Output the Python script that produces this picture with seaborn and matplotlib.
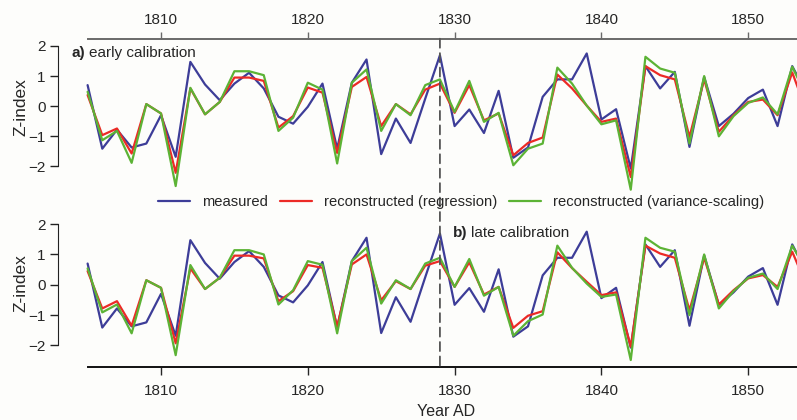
import numpy as np
import pandas as pd
import matplotlib
matplotlib.use("Agg")
import matplotlib.pyplot as plt
from matplotlib.patches import ConnectionPatch
import seaborn as sns

years = list(range(1805, 1855))

measured = [0.70, -1.41, -0.78, -1.37, -1.24, -0.30, -1.68, 1.47, 0.72, 0.20,
            0.75, 1.11, 0.59, -0.35, -0.58, -0.02, 0.75, -1.41, 0.78, 1.55,
            -1.59, -0.41, -1.22, 0.25, 1.69, -0.66, -0.11, -0.89, 0.51, -1.71,
            -1.37, 0.31, 0.89, 0.89, 1.75, -0.44, -0.10, -2.07, 1.33, 0.59,
            1.14, -1.35, 0.97, -0.66, -0.25, 0.27, 0.55, -0.66, 1.33, 0.40]

early_regression = [0.37, -0.96, -0.74, -1.57, 0.07, -0.24, -2.21, 0.59, -0.27, 0.14,
                    0.95, 0.95, 0.84, -0.71, -0.33, 0.62, 0.45, -1.55, 0.64, 0.97,
                    -0.66, 0.07, -0.27, 0.55, 0.75, -0.22, 0.70, -0.47, -0.24, -1.63,
                    -1.22, -1.04, 1.05, 0.59, 0.02, -0.52, -0.41, -2.35, 1.33, 1.03,
                    0.89, -1.02, 0.89, -0.85, -0.30, 0.14, 0.22, -0.30, 1.12, -0.20]

early_variance = [0.48, -1.13, -0.82, -1.88, 0.07, -0.24, -2.65, 0.61, -0.27, 0.14,
                  1.16, 1.16, 1.03, -0.82, -0.38, 0.78, 0.55, -1.90, 0.78, 1.22,
                  -0.82, 0.07, -0.30, 0.70, 0.89, -0.19, 0.84, -0.52, -0.22, -1.96,
                  -1.41, -1.24, 1.28, 0.75, 0.02, -0.60, -0.47, -2.77, 1.64, 1.25,
                  1.11, -1.24, 1.00, -1.00, -0.33, 0.11, 0.29, -0.27, 1.31, 0.30]

late_regression = [0.45, -0.78, -0.54, -1.35, 0.15, -0.10, -1.93, 0.54, -0.14, 0.23,
                   0.96, 0.96, 0.87, -0.54, -0.21, 0.65, 0.56, -1.38, 0.67, 1.00,
                   -0.51, 0.12, -0.14, 0.63, 0.78, -0.07, 0.74, -0.32, -0.07, -1.42,
                   -1.02, -0.87, 1.07, 0.55, 0.10, -0.34, -0.25, -2.04, 1.29, 1.03,
                   0.89, -0.84, 0.89, -0.65, -0.18, 0.21, 0.32, -0.07, 1.09, -0.05]

late_variance = [0.54, -0.91, -0.65, -1.60, 0.15, -0.10, -2.32, 0.65, -0.14, 0.23,
                 1.14, 1.14, 1.00, -0.65, -0.18, 0.78, 0.66, -1.60, 0.78, 1.22,
                 -0.62, 0.15, -0.14, 0.70, 0.89, -0.07, 0.85, -0.36, -0.07, -1.68,
                 -1.20, -0.98, 1.29, 0.56, 0.04, -0.40, -0.32, -2.48, 1.55, 1.22,
                 1.09, -1.00, 1.00, -0.78, -0.21, 0.23, 0.37, -0.14, 1.29, 0.45]

series_names = ["measured", "reconstructed (regression)", "reconstructed (variance-scaling)"]
palette = {series_names[0]: "#3d3d98", series_names[1]: "#ec2a26", series_names[2]: "#5cb335"}
split_year = 1829
x_ticks = [1810, 1820, 1830, 1840, 1850]
y_ticks = [-2, -1, 0, 1, 2]


def make_df(reg, var):
    return pd.DataFrame({
        "Year": years * 3,
        "Z": measured + reg + var,
        "series": [series_names[0]] * len(years) + [series_names[1]] * len(years)
                  + [series_names[2]] * len(years),
    })


sns.set_style("ticks")
plt.rcParams["font.family"] = ["Liberation Sans", "DejaVu Sans"]
plt.rcParams["font.size"] = 10.5

W, H = 797, 420
fig = plt.figure(figsize=(W / 100, H / 100), dpi=100)
bg = "#fdfdfb"
fig.patch.set_facecolor(bg)

px_per_year = 14.68
x0_year = 1810 - (161 - 58) / px_per_year
x1_year = 1810 + (797 - 161) / px_per_year
data_start = 1805

ax1 = fig.add_axes([58 / W, 1 - 196 / H, (797 - 58) / W, (196 - 38.7) / H])
ax2 = fig.add_axes([58 / W, 1 - 367 / H, (797 - 58) / W, (367 - 215) / H])

for ax, df, ylim in [(ax1, make_df(early_regression, early_variance), (-2.98, 2.24)),
                     (ax2, make_df(late_regression, late_variance), (-2.71, 2.30))]:
    sns.lineplot(data=df, x="Year", y="Z", hue="series", palette=palette,
                 linewidth=1.6, ax=ax, legend=(ax is ax1), sort=False)
    ax.set_xlim(x0_year, x1_year)
    ax.set_ylim(*ylim)
    ax.set_facecolor(bg)
    ax.set_xticks(x_ticks)
    ax.set_yticks(y_ticks)
    ax.set_yticklabels([("\u2212%d" % -v) if v < 0 else str(v) for v in y_ticks])
    ax.spines["right"].set_visible(False)
    ax.spines["left"].set_bounds(-2, 2)
    ax.spines["left"].set_color("#222222")
    ax.tick_params(axis="y", length=6, width=1.0, color="#222222", pad=3, labelsize=11)
    ax.set_xlabel("")
    ax.set_ylabel("")

# top panel: x axis on top
ax1.spines["bottom"].set_visible(False)
ax1.spines["top"].set_bounds(data_start, x1_year)
ax1.spines["top"].set_color("#6a6a6a")
ax1.spines["top"].set_linewidth(1.4)
ax1.xaxis.tick_top()
ax1.tick_params(axis="x", color="#6a6a6a", length=5, width=1.0, pad=3.5, labelsize=11)

# bottom panel: x axis on bottom
ax2.spines["top"].set_visible(False)
ax2.spines["bottom"].set_bounds(data_start, x1_year)
ax2.spines["bottom"].set_color("#111111")
ax2.spines["bottom"].set_linewidth(1.4)
ax2.tick_params(axis="x", length=6, width=1.0, pad=6, labelsize=11)

# y-axis labels, centred near zero as in the reference
fig.text(21 / W, 1 - 107 / H, "Z-index", rotation=90, fontsize=12.5, va="center", ha="center")
fig.text(21 / W, 1 - 283 / H, "Z-index", rotation=90, fontsize=12.5, va="center", ha="center")

# legend between panels
handles, labels = ax1.get_legend_handles_labels()
ax1.get_legend().remove()
fig.legend(handles, labels, loc="center", bbox_to_anchor=(461 / W, 1 - 202 / H),
           ncol=3, frameon=False, fontsize=10.6, handlelength=2.2,
           handletextpad=0.8, columnspacing=0.8)

# calibration split line
con = ConnectionPatch(xyA=(split_year, 2.24), coordsA=ax1.transData,
                      xyB=(split_year, -2.71), coordsB=ax2.transData,
                      linestyle=(0, (5, 3)), color="#555555", linewidth=1.3)
fig.add_artist(con)

# panel labels
fig.text(72 / W, 1 - 53 / H, "a)", fontweight="bold", fontsize=11, va="center", ha="left")
fig.text(89 / W, 1 - 53 / H, "early calibration", fontsize=11, va="center", ha="left")
fig.text(453 / W, 1 - 233 / H, "b)", fontweight="bold", fontsize=11, va="center", ha="left")
fig.text(471 / W, 1 - 233 / H, "late calibration", fontsize=11, va="center", ha="left")

fig.text(446 / W, 1 - 411 / H, "Year AD", fontsize=11.5, va="center", ha="center")

fig.savefig("out.png", dpi=100, facecolor=bg)
